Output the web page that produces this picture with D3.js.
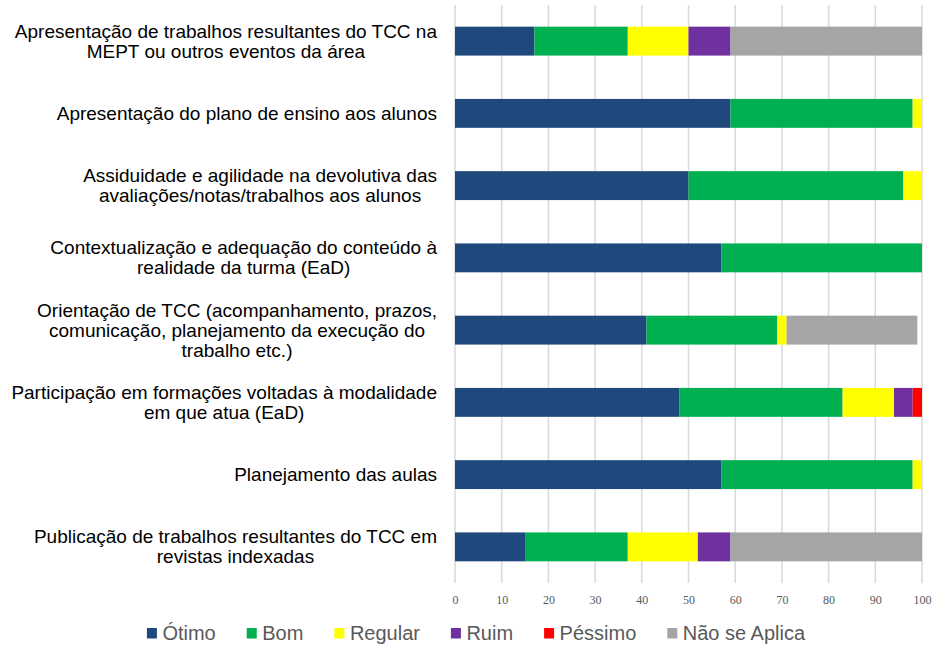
<!DOCTYPE html>
<html>
<head>
<meta charset="utf-8">
<script src="https://cdn.jsdelivr.net/npm/d3@7"></script>
<style>
body { margin: 0; background: #fff; }
</style>
</head>
<body>
<script>
// categorias (eixo vertical) e quebras de linha como no original
var categories = [
  "Apresentação de trabalhos resultantes do TCC na MEPT ou outros eventos da área",
  "Apresentação do plano de ensino aos alunos",
  "Assiduidade e agilidade na devolutiva das avaliações/notas/trabalhos aos alunos",
  "Contextualização e adequação do conteúdo à realidade da turma (EaD)",
  "Orientação de TCC (acompanhamento, prazos, comunicação, planejamento da execução do trabalho etc.)",
  "Participação em formações voltadas à modalidade em que atua (EaD)",
  "Planejamento das aulas",
  "Publicação de trabalhos resultantes do TCC em revistas indexadas"
];
var labelLines = [
  ["Apresentação de trabalhos resultantes do TCC na", "MEPT ou outros eventos da área"],
  ["Apresentação do plano de ensino aos alunos"],
  ["Assiduidade e agilidade na devolutiva das", "avaliações/notas/trabalhos aos alunos"],
  ["Contextualização e adequação do conteúdo à", "realidade da turma (EaD)"],
  ["Orientação de TCC (acompanhamento, prazos,", "comunicação, planejamento da execução do", "trabalho etc.)"],
  ["Participação em formações voltadas à modalidade", "em que atua (EaD)"],
  ["Planejamento das aulas"],
  ["Publicação de trabalhos resultantes do TCC em", "revistas indexadas"]
];

var series = ["Ótimo", "Bom", "Regular", "Ruim", "Péssimo", "Não se Aplica"];
var colors = ["#1f497d", "#00b050", "#ffff00", "#7030a0", "#ff0000", "#a5a5a5"];

var otimo       = [17, 59, 50, 57, 41, 48, 57, 15];
var bom         = [20, 39, 46, 43, 28, 35, 41, 22];
var regular     = [13,  2,  4,  0,  2, 11,  2, 15];
var ruim        = [ 9,  0,  0,  0,  0,  4,  0,  7];
var pessimo     = [ 0,  0,  0,  0,  0,  2,  0,  0];
var naoSeAplica = [41,  0,  0,  0, 28,  0,  0, 41];

var xTicks = [0, 10, 20, 30, 40, 50, 60, 70, 80, 90, 100];

var width = 934, height = 645;
var svg = d3.select("body").append("svg").attr("width", width).attr("height", height);

var rows = categories.map(function (c, i) {
  return {
    cat: c,
    "Ótimo": otimo[i], "Bom": bom[i], "Regular": regular[i],
    "Ruim": ruim[i], "Péssimo": pessimo[i], "Não se Aplica": naoSeAplica[i]
  };
});

var x = d3.scaleLinear().domain([0, 100]).range([455, 922]);
var y = d3.scaleBand().domain(categories).range([5, 583]).paddingInner(0.6).paddingOuter(0.3);
var color = d3.scaleOrdinal().domain(series).range(colors);

// linhas de grade
svg.append("g").selectAll("line").data(xTicks).join("line")
  .attr("x1", function (d) { return x(d); }).attr("x2", function (d) { return x(d); })
  .attr("y1", 5).attr("y2", 583)
  .attr("stroke", "#d9d9d9").attr("stroke-width", 1.5);

// eixo x
var axis = svg.append("g").attr("transform", "translate(0,583)")
  .call(d3.axisBottom(x).tickValues(xTicks).tickSize(0).tickPadding(12));
axis.select(".domain").remove();
axis.selectAll("text").attr("fill", "#595959")
  .style("font-family", "'Liberation Serif', serif").style("font-size", "12px");

// barras empilhadas
var stack = d3.stack().keys(series)(rows);
svg.append("g").selectAll("g").data(stack).join("g")
  .attr("fill", function (d) { return color(d.key); })
  .selectAll("rect").data(function (d) { return d; }).join("rect")
  .attr("x", function (d) { return x(d[0]); })
  .attr("width", function (d) { return x(d[1]) - x(d[0]); })
  .attr("y", function (d) { return y(d.data.cat); })
  .attr("height", y.bandwidth());

// rótulos das categorias
var lh = 20;
var labels = svg.append("g").style("font-family", "'Liberation Sans', Arial, sans-serif")
  .style("font-size", "19px").attr("fill", "#000");
categories.forEach(function (c, i) {
  var lines = labelLines[i];
  var yc = y(c) + y.bandwidth() / 2;
  var g = labels.append("g");
  var t = g.selectAll("text").data(lines).join("text")
    .attr("text-anchor", "middle")
    .attr("dominant-baseline", "central")
    .attr("y", function (d, j) { return yc + (j - (lines.length - 1) / 2) * lh; })
    .text(function (d) { return d; });
  var maxW = d3.max(t.nodes(), function (n) { return n.getComputedTextLength(); });
  t.attr("x", 437 - maxW / 2);
});

// legenda
var legend = svg.append("g").style("font-family", "'Liberation Sans', Arial, sans-serif")
  .style("font-size", "20px");
var items = legend.selectAll("g").data(series).join("g");
items.append("rect").attr("width", 10).attr("height", 10.5).attr("y", 628)
  .attr("fill", function (d) { return color(d); });
items.append("text").attr("x", 15.5).attr("y", 640).attr("fill", "#595959")
  .text(function (d) { return d; });
var pos = 0, gap = 31;
items.each(function () {
  var w = 15.5 + this.querySelector("text").getComputedTextLength();
  this._x = pos; this._w = w;
  pos += w + gap;
});
var total = pos - gap;
var start = 476 - total / 2;
items.attr("transform", function () { return "translate(" + (start + this._x) + ",0)"; });
</script>
</body>
</html>
